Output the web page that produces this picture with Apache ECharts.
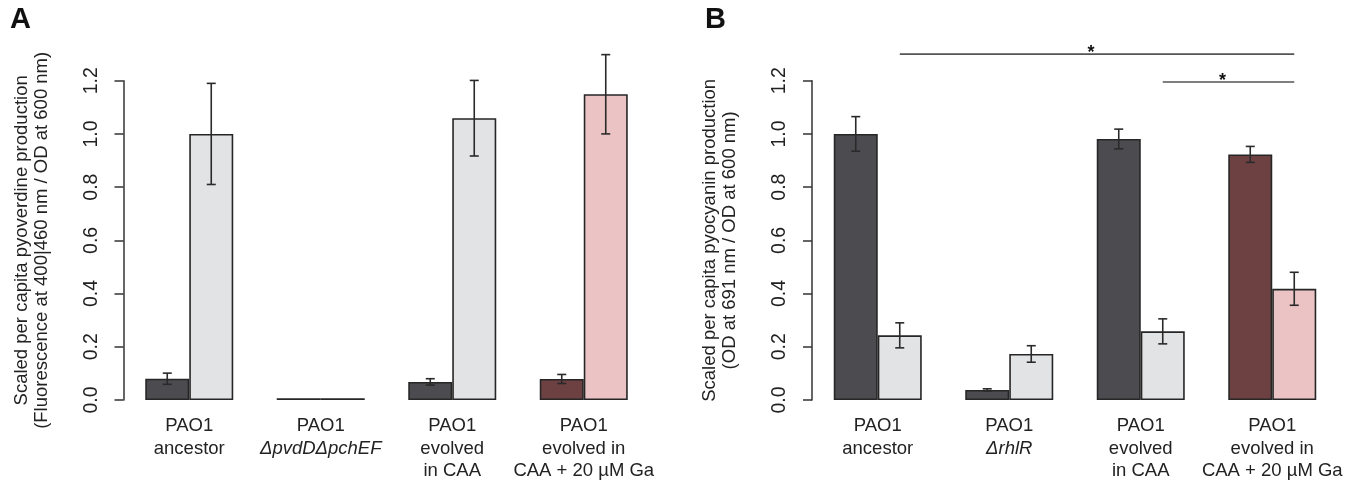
<!DOCTYPE html>
<html><head><meta charset="utf-8">
<script src="https://cdn.jsdelivr.net/npm/echarts@6/dist/echarts.min.js"></script>
<style>html,body{margin:0;padding:0;background:#fff}#c{width:1364px;height:490px}</style>
</head><body><div id="c"></div>
<script>
// ---- data ----
const catsA = ['PAO1\nancestor', 'PAO1\nΔpvdDΔpchEF', 'PAO1\nevolved\nin CAA', 'PAO1\nevolved in\nCAA + 20 µM Ga'];
const catsB = ['PAO1\nancestor', 'PAO1\nΔrhlR', 'PAO1\nevolved\nin CAA', 'PAO1\nevolved in\nCAA + 20 µM Ga'];
const aDark = [0.08, 0.007, 0.068, 0.079];
const aDarkErr = [0.021, 0, 0.012, 0.017];
const aLight = [1.0, 0.007, 1.059, 1.149];
const aLightErr = [0.19, 0, 0.142, 0.149];
const bDark = [1.0, 0.038, 0.981, 0.923];
const bDarkErr = [0.065, 0.004, 0.037, 0.03];
const bLight = [0.243, 0.173, 0.258, 0.418];
const bLightErr = [0.047, 0.031, 0.047, 0.062];
const sigFrom = [0, 2];
const sigTo = [3, 3];
const sigY = [1.3, 1.195];
const sigText = ['*', '*'];
const yTicks = [0, 0.2, 0.4, 0.6, 0.8, 1.0, 1.2];
const titleA = 'Scaled per capita pyoverdine production\n(Fluorescence at 400|460 nm / OD at 600 nm)';
const titleB = 'Scaled per capita pyocyanin production\n(OD at 691 nm / OD at 600 nm)';

// ---- styles ----
const C_DARK = '#4c4b50', C_LIGHT = '#e2e3e5', C_MAROON = '#6d4142', C_PINK = '#ecc3c4';
const BORDER = '#262626', INK = '#222';
const FONT = '"Liberation Sans", Arial, sans-serif';
const BAR_W = 44, HALF = 22, CAP = 4.5;

function barData(vals, lastColor, baseColor) {
  return vals.map((v, i) => ({ value: v, itemStyle: { color: i === 3 ? lastColor : baseColor } }));
}
function errData(vals, errs) {
  return vals.map((v, i) => [i, v - errs[i], v + errs[i]]).filter((d, i) => errs[i] > 0);
}
function errSeries(idx, vals, errs, offset) {
  return {
    type: 'custom', xAxisIndex: idx, yAxisIndex: idx, z: 5,
    data: errData(vals, errs), encode: { x: 0, y: [1, 2] },
    renderItem: function (params, api) {
      const lo = api.coord([api.value(0), api.value(1)]);
      const hi = api.coord([api.value(0), api.value(2)]);
      const x = lo[0] + offset;
      const st = { stroke: '#2a2a2a', lineWidth: 1.6 };
      return { type: 'group', children: [
        { type: 'line', shape: { x1: x, y1: lo[1], x2: x, y2: hi[1] }, style: st },
        { type: 'line', shape: { x1: x - CAP, y1: lo[1], x2: x + CAP, y2: lo[1] }, style: st },
        { type: 'line', shape: { x1: x - CAP, y1: hi[1], x2: x + CAP, y2: hi[1] }, style: st }
      ]};
    }
  };
}
function catFormatter(v) {
  return v.split('\n').map(l => l.charAt(0) === 'Δ' ? '{i|' + l + '}' : '{n|' + l + '}').join('\n');
}
function xAx(idx, cats) {
  return {
    type: 'category', gridIndex: idx, data: cats,
    axisLine: { show: false }, axisTick: { show: false },
    axisLabel: {
      margin: 15, interval: 0, formatter: catFormatter,
      rich: {
        n: { fontFamily: FONT, fontSize: 18.5, color: INK, lineHeight: 22.5 },
        i: { fontFamily: FONT, fontSize: 18.5, color: INK, lineHeight: 22.5, fontStyle: 'italic' }
      }
    }
  };
}
function yAx(idx, name) {
  return {
    type: 'value', gridIndex: idx, min: 0, max: 1.2, interval: 0.2,
    name: name, nameLocation: 'middle', nameRotate: 90, nameGap: 72,
    nameTextStyle: { fontFamily: FONT, fontSize: 18.5, color: INK, lineHeight: 20 },
    axisLine: { show: true, lineStyle: { color: '#333', width: 1.5 } },
    axisTick: { show: true, length: 9, lineStyle: { color: '#333', width: 1.5 } },
    splitLine: { show: false },
    axisLabel: { rotate: 90, margin: 22, fontFamily: FONT, fontSize: 19.5, color: INK,
      formatter: v => yTicks.some(t => Math.abs(t - v) < 1e-9) ? v.toFixed(1) : '' }
  };
}
function barSeries(idx, vals, base, last) {
  return {
    type: 'bar', xAxisIndex: idx, yAxisIndex: idx, barWidth: BAR_W, barGap: '0%',
    data: barData(vals, last, base),
    itemStyle: { borderColor: BORDER, borderWidth: 1.6 }, z: 2
  };
}

const sigData = sigFrom.map((f, i) => [f, sigTo[i], sigY[i], sigText[i]]);

const option = {
  animation: false,
  backgroundColor: '#fff',
  grid: [
    { left: 123.5, top: 80.7, width: 526, height: 319.3 },
    { left: 812, top: 80.7, width: 526, height: 319.3 }
  ],
  xAxis: [xAx(0, catsA), xAx(1, catsB)],
  yAxis: [yAx(0, titleA), yAx(1, titleB)],
  graphic: [
    { type: 'text', left: 10, top: 5, style: { text: 'A', fontFamily: FONT, fontSize: 29, fontWeight: 'bold', fill: '#111' } },
    { type: 'text', left: 705, top: 5, style: { text: 'B', fontFamily: FONT, fontSize: 29, fontWeight: 'bold', fill: '#111' } }
  ],
  series: [
    barSeries(0, aDark, C_DARK, C_MAROON),
    barSeries(0, aLight, C_LIGHT, C_PINK),
    barSeries(1, bDark, C_DARK, C_MAROON),
    barSeries(1, bLight, C_LIGHT, C_PINK),
    errSeries(0, aDark, aDarkErr, -HALF),
    errSeries(0, aLight, aLightErr, HALF),
    errSeries(1, bDark, bDarkErr, -HALF),
    errSeries(1, bLight, bLightErr, HALF),
    {
      type: 'custom', xAxisIndex: 1, yAxisIndex: 1, z: 6, clip: false,
      data: sigData, encode: { x: [0, 1], y: 2 },
      renderItem: function (params, api) {
        const y = api.value(2);
        const p1 = api.coord([api.value(0), y]);
        const p2 = api.coord([api.value(1), y]);
        const x1 = p1[0] + HALF, x2 = p2[0] + HALF;
        return { type: 'group', children: [
          { type: 'line', shape: { x1: x1, y1: p1[1], x2: x2, y2: p1[1] }, style: { stroke: '#555', lineWidth: 1.6 } },
          { type: 'text', x: (x1 + x2) / 2 - 6, y: p1[1] - 1,
            style: { text: sigData[params.dataIndex][3], fontFamily: FONT, fontSize: 18, fontWeight: 'bold', fill: '#111', align: 'center', verticalAlign: 'middle' } }
        ]};
      }
    }
  ]
};
const chart = echarts.init(document.getElementById('c'), null, { renderer: 'canvas' });
chart.setOption(option);
</script></body></html>
